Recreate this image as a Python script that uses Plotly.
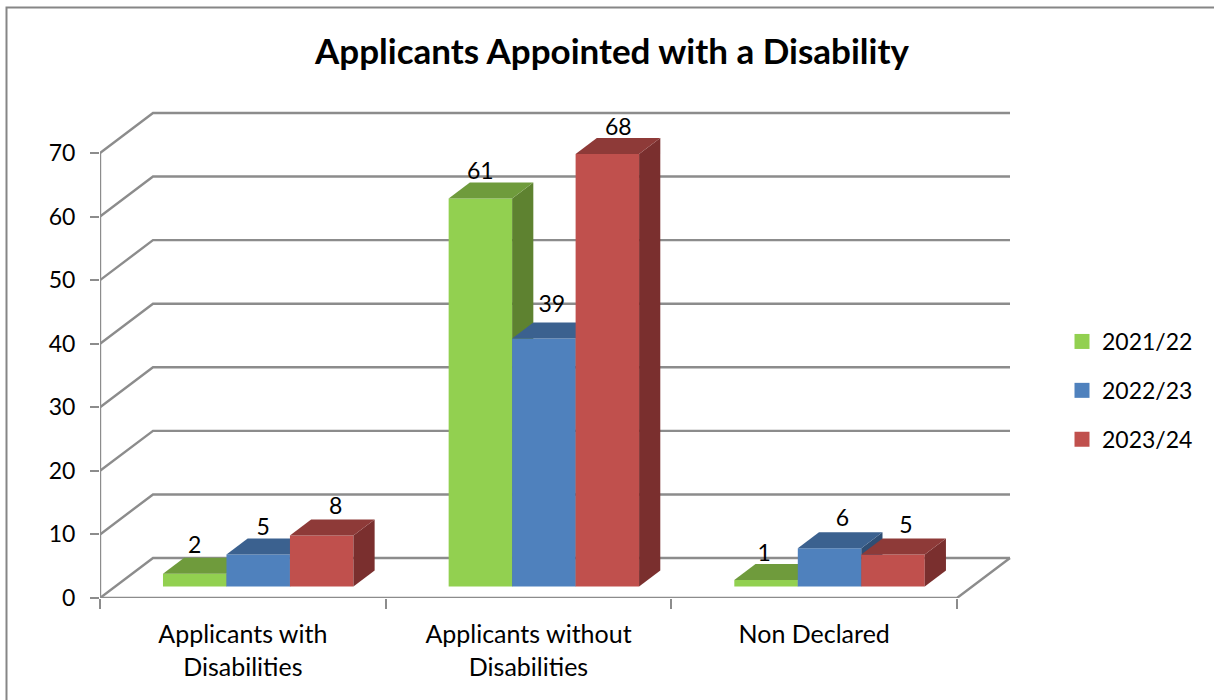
import plotly.graph_objects as go

categories = ["Applicants with<br>Disabilities", "Applicants without<br>Disabilities", "Non Declared"]
series_names = ["2021/22", "2022/23", "2023/24"]
values_2122 = [2, 61, 1]
values_2223 = [5, 39, 6]
values_2324 = [8, 68, 5]
y_ticks = [0, 10, 20, 30, 40, 50, 60, 70]
title_text = "Applicants Appointed with a Disability"

series_values = [values_2122, values_2223, values_2324]
front_colors = ["#92D050", "#4F81BD", "#C0504D"]
top_colors = ["#6F9B3C", "#3B618F", "#8E3A38"]
side_colors = ["#5E8230", "#2F4E74", "#7A2F2E"]
# hand placement of the labels, in pixels, per series and category
label_dx = [[0, 0, -2], [5, 8, 13], [14, 11, 13]]
label_dy = [[26, 25, 25], [25, 32, 28], [27, 25, 27]]

W, H = 1214, 700
PAD = 4                                   # spare room so the top and right lines are not clipped
L, R, T, B = 100, 1010 + PAD, 113 - PAD, 598   # plot box in pixels
CAT_PX = 285.67
UNIT_PX = 445 / 70
DX = 53 / CAT_PX                          # chart depth in x units
DY = 40 / UNIT_PX                         # chart depth in y units
BAR_W = 1 / 4.5
FRONT, BACK = 0.29, 0.69                  # depth fractions of the bars
x_range = [0, 3 + DX + PAD / CAT_PX]
y_range = [0, 70 + DY + PAD / UNIT_PX]
GRID = "#8C8C8C"
GRID_W = 2.4
FONT = "Lato, Carlito, Calibri, sans-serif"


def px_x(p):
    return (p - L) / (R - L)


def px_y(p):
    return (B - p) / (B - T)


fig = go.Figure()

# walls and floor
for v in y_ticks:
    fig.add_trace(go.Scatter(
        x=[0, DX, 3 + DX], y=[v, v + DY, v + DY], mode="lines",
        line=dict(color=GRID, width=GRID_W), showlegend=False, hoverinfo="skip", cliponaxis=False))
fig.add_trace(go.Scatter(
    x=[0, 0], y=[0, 70], mode="lines",
    line=dict(color=GRID, width=GRID_W), showlegend=False, hoverinfo="skip", cliponaxis=False))
fig.add_trace(go.Scatter(
    x=[0, 3, 3 + DX], y=[0, 0, DY], mode="lines",
    line=dict(color=GRID, width=GRID_W), showlegend=False, hoverinfo="skip", cliponaxis=False))

# one overlaid subplot per series, so that each series paints over the previous
for s, vals in enumerate(series_values):
    ax = str(s + 2)
    xa, ya = "x" + ax, "y" + ax
    xs = [c + 0.5 + (s - 1) * BAR_W + FRONT * DX for c in range(3)]
    base = FRONT * DY
    fig.add_trace(go.Bar(
        x=xs, y=vals, base=base, width=BAR_W, xaxis=xa, yaxis=ya,
        marker=dict(color=front_colors[s], line=dict(width=0)),
        name=series_names[s], showlegend=False, hoverinfo="y"))
    d_x = (BACK - FRONT) * DX
    d_y = (BACK - FRONT) * DY
    for xc, v in zip(xs, vals):
        x0, x1 = xc - BAR_W / 2, xc + BAR_W / 2
        top = base + v
        fig.add_trace(go.Scatter(
            x=[x1, x1 + d_x, x1 + d_x, x1, x1], y=[base, base + d_y, top + d_y, top, base],
            mode="lines", fill="toself", fillcolor=side_colors[s], line=dict(width=0),
            xaxis=xa, yaxis=ya, showlegend=False, hoverinfo="skip", cliponaxis=False))
        fig.add_trace(go.Scatter(
            x=[x0, x0 + d_x, x1 + d_x, x1, x0], y=[top, top + d_y, top + d_y, top, top],
            mode="lines", fill="toself", fillcolor=top_colors[s], line=dict(width=0),
            xaxis=xa, yaxis=ya, showlegend=False, hoverinfo="skip", cliponaxis=False))

# data labels, above everything
for s, vals in enumerate(series_values):
    xs = [c + 0.5 + (s - 1) * BAR_W + FRONT * DX + label_dx[s][c] / CAT_PX for c in range(3)]
    ys = [FRONT * DY + v + label_dy[s][c] / UNIT_PX for c, v in enumerate(vals)]
    fig.add_trace(go.Scatter(
        x=xs, y=ys, text=[str(v) for v in vals], mode="text", textposition="middle center",
        textfont=dict(family=FONT, size=23, color="#000000"),
        xaxis="x4", yaxis="y4", showlegend=False, hoverinfo="skip", cliponaxis=False))

# legend entries
for s, name in enumerate(series_names):
    fig.add_trace(go.Scatter(
        x=[None], y=[None], mode="markers", name=name, legendgroup=name,
        marker=dict(symbol="square", size=15, color=front_colors[s], line=dict(width=0))))

overlay_x = dict(range=x_range, visible=False, fixedrange=True)
overlay_y = dict(range=y_range, visible=False, fixedrange=True)

fig.update_layout(
    width=W, height=H, autosize=False,
    margin=dict(l=L, r=W - R, t=T, b=H - B, pad=0),
    paper_bgcolor="#FFFFFF", plot_bgcolor="#FFFFFF",
    font=dict(family=FONT, size=23, color="#000000"),
    barmode="overlay",
    title=dict(
        text="<b>%s</b>" % title_text, xref="paper", yref="container",
        x=px_x(612), xanchor="center", y=1 - 52 / H, yanchor="middle",
        font=dict(family=FONT, size=35, color="#000000")),
    xaxis=dict(
        range=x_range, tickmode="array", tickvals=[0.5, 1.5, 2.5], ticktext=categories,
        showgrid=False, zeroline=False, showline=False, ticks="", ticklen=0,
        ticklabelstandoff=19,
        tickfont=dict(family=FONT, size=25), fixedrange=True,
        minor=dict(ticks="outside", ticklen=10, tickwidth=2, tickcolor=GRID, tick0=0, dtick=1, showgrid=False)),
    yaxis=dict(
        range=y_range, tickmode="array", tickvals=y_ticks,
        showgrid=False, zeroline=False, showline=False,
        ticks="outside", ticklen=9, tickwidth=2, tickcolor=GRID,
        ticklabelstandoff=10,
        tickfont=dict(family=FONT, size=23), fixedrange=True),
    xaxis2=dict(overlaying="x", **overlay_x), yaxis2=dict(overlaying="y", **overlay_y),
    xaxis3=dict(overlaying="x", **overlay_x), yaxis3=dict(overlaying="y", **overlay_y),
    xaxis4=dict(overlaying="x", **overlay_x), yaxis4=dict(overlaying="y", **overlay_y),
    legend=dict(
        x=px_x(1062), xanchor="left", y=px_y(320), yanchor="top",
        font=dict(family=FONT, size=23), traceorder="grouped", tracegroupgap=16,
        itemclick=False, itemdoubleclick=False, bgcolor="rgba(0,0,0,0)"),
    shapes=[dict(
        type="path", xref="paper", yref="paper",
        path="M %f,%f L %f,%f L %f,%f" % (px_x(6.5), px_y(700), px_x(6.5), px_y(7.5), px_x(1214), px_y(7.5)),
        line=dict(color="#868686", width=2), layer="below")],
)

fig.write_html("out.html", config={"displayModeBar": False},
               post_script="document.body.style.margin='0';document.body.style.overflow='hidden';")
